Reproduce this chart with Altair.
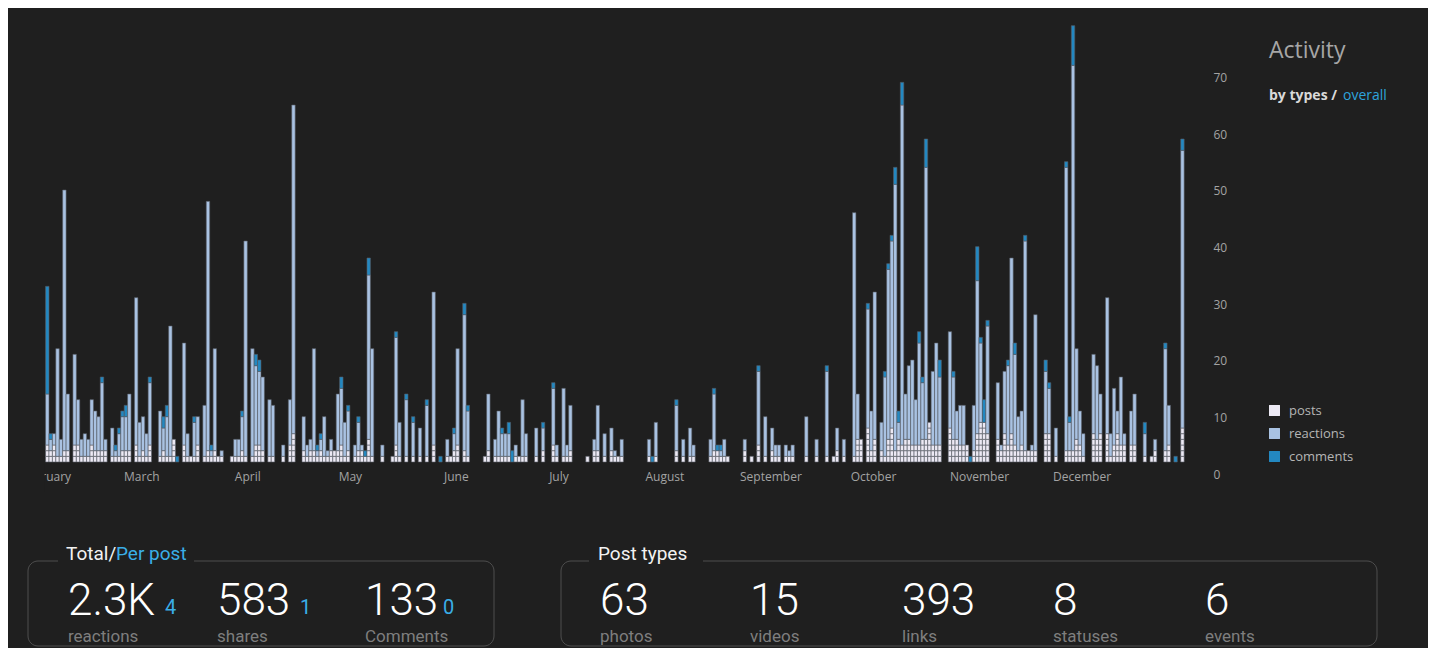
import altair as alt
import pandas as pd

# ---------------- data ----------------
START = "2017-02-01"          # day 0 of the series
day_offset = [0, 1, 2, 3, 4, 5, 6, 8, 9, 10, 11, 12, 13, 14, 15, 16, 17, 19, 20, 21, 22, 23, 24, 26, 27, 28, 29, 30,
              33, 34, 35, 36, 37, 38, 40, 41, 42, 43, 44, 46, 47, 48, 49, 50, 51, 54, 55, 56, 57, 58, 60, 61, 62, 63,
              65, 66, 69, 71, 72, 75, 76, 77, 78, 79, 80, 81,
              82, 83, 84, 85, 86, 87, 88, 90, 91, 92, 93, 94, 95, 98, 101, 102, 103, 105, 107, 109, 111, 113, 115,
              117, 118, 119, 120, 122, 123, 128, 129, 131, 132, 133, 134, 135, 136, 137, 138, 139, 140, 143, 145,
              148, 149, 151, 152, 153, 158, 160, 161, 163, 165,
              166, 167, 168, 176, 177, 178, 184, 186, 188, 189, 194, 195, 196, 197, 198, 199, 204, 206, 208, 210,
              212, 213, 214, 216, 217, 218, 222, 225, 228, 230, 231, 233, 236, 237, 238, 240, 241, 242, 244, 245,
              246, 247, 248, 249, 250,
              251, 252, 253, 254, 255, 256, 257, 258, 259, 260, 261, 264, 265, 266, 267, 268, 269, 270, 271, 272,
              273, 274, 275, 278, 279, 280, 281, 282, 283, 284, 285, 286, 287, 288, 289, 292, 293, 295, 298, 299,
              300, 301, 302, 303, 306, 307, 308, 310, 311, 312, 313, 314, 315, 317, 318, 321, 323, 324, 327, 328,
              330, 332]
posts = [3, 2, 3, 1, 1, 2, 2, 3, 3, 1, 1, 1, 3, 2, 2, 2, 2, 1, 1, 1, 2, 2, 2, 3, 1, 2, 1, 3,
         1, 2, 1, 1, 4, 0, 3, 1, 1, 1, 3, 1, 2, 1, 2, 1, 1, 1, 1, 1, 2, 1, 1, 3, 3, 2,
         1, 1, 1, 3, 5, 2, 1, 2, 2, 1, 2, 1,
         1, 2, 2, 2, 3, 1, 2, 1, 2, 2, 1, 4, 1, 1, 1, 3, 1, 1, 1, 1, 1, 3, 0,
         1, 1, 2, 3, 2, 1, 1, 2, 1, 1, 1, 1, 1, 0, 1, 1, 1, 1, 1, 2,
         3, 1, 1, 1, 2, 1, 2, 2, 1, 2,
         1, 1, 1, 1, 0, 1, 2, 1, 1, 1, 1, 2, 2, 1, 1, 1, 2, 1, 3, 1,
         2, 1, 1, 1, 1, 1, 1, 1, 1, 1, 2, 1, 1, 4, 4, 6, 2, 4, 2, 1,
         4, 6, 2, 4, 3,
         4, 4, 3, 3, 3, 4, 4, 7, 3, 3, 3, 6, 4, 4, 3, 3, 3, 0, 2, 5,
         7, 7, 5, 4, 2, 5, 3, 5, 3, 2, 3, 2, 2, 2, 2, 5, 5, 1, 2, 2,
         2, 4, 3, 1, 5, 4, 5, 5, 1, 3, 5, 3, 3, 3, 3, 1, 1, 2, 2, 3,
         0, 6]
reactions = [9, 2, 2, 19, 3, 46, 10, 16, 8, 3, 4, 3, 8, 7, 6, 12, 2, 5, 1, 4, 6, 6, 10, 26, 6, 6, 4, 11,
             8, 4, 7, 23, 0, 0, 18, 4, 0, 6, 5, 9, 44, 1, 18, 0, 1, 0, 3, 3, 6, 38, 19, 14, 13, 13,
             10, 9, 2, 8, 58, 6, 2, 2, 18, 1, 2, 7,
             1, 2, 0, 10, 10, 6, 7, 2, 5, 1, 0, 29, 19, 2, 0, 19, 6, 10, 6, 5, 9, 27, 0,
             3, 0, 3, 17, 24, 8, 0, 10, 3, 8, 4, 4, 4, 0, 2, 0, 10, 4, 5, 4,
             10, 2, 12, 2, 8, 0, 2, 8, 4, 4,
             1, 0, 3, 3, 0, 6, 8, 3, 5, 2, 3, 10, 0, 1, 3, 0, 2, 0, 13, 7,
             4, 2, 2, 2, 1, 2, 7, 3, 15, 0, 4, 3, 43, 8, 0, 21, 7, 26, 5, 14,
             30, 33, 47, 3, 60,
             8, 13, 15, 8, 18, 10, 48, 0, 13, 18, 12, 17, 11, 5, 7, 7, 0, 0, 8, 27,
             14, 0, 19, 10, 1, 11, 14, 31, 16, 6, 6, 37, 0, 1, 24, 11, 8, 5, 50, 5,
             68, 16, 6, 4, 14, 13, 7, 24, 4, 10, 4, 12, 2, 6, 9, 4, 0, 2, 18, 7,
             0, 49]
comments = [19, 1, 0, 0, 0, 0, 0, 0, 0, 0, 0, 0, 0, 0, 0, 1, 0, 0, 1, 1, 1, 2, 0, 0, 0, 0, 0, 1,
            0, 2, 2, 0, 0, 1, 0, 0, 0, 1, 0, 0, 0, 1, 0, 0, 0, 0, 0, 0, 1, 0, 0, 2, 2, 0,
            0, 0, 0, 0, 0, 0, 0, 0, 0, 1, 1, 0,
            0, 0, 0, 0, 2, 0, 1, 0, 1, 0, 1, 3, 0, 0, 0, 1, 0, 1, 1, 0, 1, 0, 1,
            0, 0, 1, 0, 2, 1, 0, 0, 0, 0, 1, 0, 2, 2, 0, 0, 0, 0, 0, 1,
            1, 0, 0, 0, 0, 0, 0, 0, 0, 0,
            0, 0, 0, 0, 1, 0, 1, 0, 0, 0, 0, 1, 1, 1, 0, 0, 0, 0, 1, 0,
            0, 0, 0, 0, 0, 0, 0, 0, 1, 0, 0, 0, 0, 0, 0, 1, 0, 0, 0, 1,
            1, 1, 3, 2, 4,
            0, 0, 0, 0, 2, 1, 5, 0, 0, 0, 3, 0, 1, 0, 0, 0, 0, 1, 0, 6,
            1, 4, 1, 0, 0, 0, 1, 0, 2, 0, 0, 1, 0, 0, 0, 2, 1, 0, 1, 1,
            7, 0, 0, 0, 0, 0, 0, 0, 0, 0, 0, 0, 0, 0, 0, 2, 0, 0, 1, 0,
            1, 2]

series_names = ["posts", "reactions", "comments"]
series_colors = ["#ece9f4", "#a9c2e2", "#2388c1"]
y_ticks = [0, 10, 20, 30, 40, 50, 60, 70]

total_titles = ["Total/", "Per post"]
total_values = ["2.3K", "583", "133"]
per_post_values = ["4", "1", "0"]
total_labels = ["reactions", "shares", "Comments"]

types_title = "Post types"
type_values = ["63", "15", "393", "8", "6"]
type_labels = ["photos", "videos", "links", "statuses", "events"]

# ---------------- table for the stacked bars ----------------
rows = []
start = pd.Timestamp(START)
for d, p, r, c in zip(day_offset, posts, reactions, comments):
    date = (start + pd.Timedelta(days=d, hours=12)).strftime("%Y-%m-%dT%H:%M:%S")
    k = 0
    for _ in range(p):
        rows.append({"date": date, "type": "posts", "value": 1, "k": k})
        k += 1
    if r:
        rows.append({"date": date, "type": "reactions", "value": r, "k": k})
        k += 1
    if c:
        rows.append({"date": date, "type": "comments", "value": c, "k": k})
        k += 1
df = pd.DataFrame(rows)

BG = "#1f1f1f"
FONT = "Open Sans"
NUMFONT = "Roboto"
OX, OY = 45, 20  # page position of the plot origin

bars = alt.Chart(df).mark_bar(width=3.42, stroke="#575c64", strokeWidth=0.6).encode(
    x=alt.X("date:T", title=None,
            scale=alt.Scale(domain=[alt.DateTime(year=2017, month=1, date=31, hours=20),
                                    alt.DateTime(year=2017, month=12, date=31, hours=6)],
                            nice=False, padding=0),
            axis=alt.Axis(format="%B", tickCount="month", labelAlign="center", labelFlush=False,
                          labelOverlap=False, ticks=False, domain=False, grid=False, labelPadding=9,
                          labelColor="#a3a3a3", labelFontSize=12, labelFont=FONT)),
    y=alt.Y("value:Q", stack="zero", title=None,
            scale=alt.Scale(domain=[0, 78], nice=False, padding=0),
            axis=alt.Axis(orient="right", values=y_ticks, ticks=False, domain=False, grid=False,
                          labelPadding=28, labelAlign="left", labelBaseline="middle", labelOffset=12,
                          labelColor="#a3a3a3", labelFontSize=12, labelFont=FONT)),
    color=alt.Color("type:N", scale=alt.Scale(domain=series_names, range=series_colors),
                    legend=alt.Legend(orient="none", legendX=1268 - OX, legendY=384, title=None,
                                      symbolType="square", symbolSize=120, symbolStrokeWidth=0,
                                      labelFontSize=13, labelColor="#b5b5b5", labelFont=FONT,
                                      rowPadding=9, labelOffset=8)),
    order=alt.Order("k:Q"),
    detail="k:N",
)

one = pd.DataFrame({"a": [0]})


def rect(x1, x2, y1, y2, **kw):
    return alt.Chart(one).mark_rect(**kw).encode(
        x=alt.value(x1 - OX), x2=alt.value(x2 - OX), y=alt.value(y1 - OY), y2=alt.value(y2 - OY))


def txt(text, x, y, size, color, font=FONT, weight="normal", align="left"):
    return alt.Chart(pd.DataFrame({"t": [text]})).mark_text(
        align=align, baseline="alphabetic", font=font, fontSize=size, fontWeight=weight, color=color
    ).encode(x=alt.value(x - OX), y=alt.value(y - OY), text="t:N")


layers = [bars]
# hide the part of the first month label that falls left of the plot
layers.append(rect(0, OX - 0.5, 464, 492, fill=BG))

# header on the right
layers.append(txt("Activity", 1269, 58, 23, "#a6a6a6"))
layers.append(txt("by types /", 1269, 100, 14, "#d9d9d9", weight="bold"))
layers.append(txt("overall", 1343, 100, 14, "#2ea4dc"))

# stat boxes
BOX_Y1, BOX_Y2 = 561, 646
layers.append(rect(28, 494, BOX_Y1, BOX_Y2, fillOpacity=0, stroke="#4e4e4e", strokeWidth=1, cornerRadius=10))
layers.append(rect(561, 1377, BOX_Y1, BOX_Y2, fillOpacity=0, stroke="#4e4e4e", strokeWidth=1, cornerRadius=10))
layers.append(rect(58, 194, 553, 568, fill=BG))
layers.append(rect(589, 703, 553, 568, fill=BG))

layers.append(txt(total_titles[0], 66, 560, 19, "#f2f2f2", font=NUMFONT))
layers.append(txt(total_titles[1], 116, 560, 19, "#3aaee8", font=NUMFONT))
layers.append(txt(types_title, 598, 560, 19, "#f2f2f2", font=NUMFONT))

total_x = [68, 217, 365]
sub_x = [165, 300, 443]
for v, s, lab, x, sx in zip(total_values, per_post_values, total_labels, total_x, sub_x):
    layers.append(txt(v, x, 615, 44, "#ffffff", font=NUMFONT, weight=300))
    layers.append(txt(s, sx, 614, 20, "#3aaee8", font=NUMFONT))
    layers.append(txt(lab, x, 642, 17, "#7e7e7e", font=NUMFONT))

type_x = [600, 750, 902, 1053, 1205]
for v, lab, x in zip(type_values, type_labels, type_x):
    layers.append(txt(v, x, 615, 44, "#ffffff", font=NUMFONT, weight=300))
    layers.append(txt(lab, x, 642, 17, "#7e7e7e", font=NUMFONT))

chart = alt.layer(*layers).properties(
    width=1140, height=442,
    autosize=alt.AutoSizeParams(type="none"),
    padding={"left": 37, "top": 12, "right": 243, "bottom": 186},
).configure(background=BG).configure_view(stroke=None)

chart.save("out.html", embed_options={"renderer": "svg", "actions": False})
